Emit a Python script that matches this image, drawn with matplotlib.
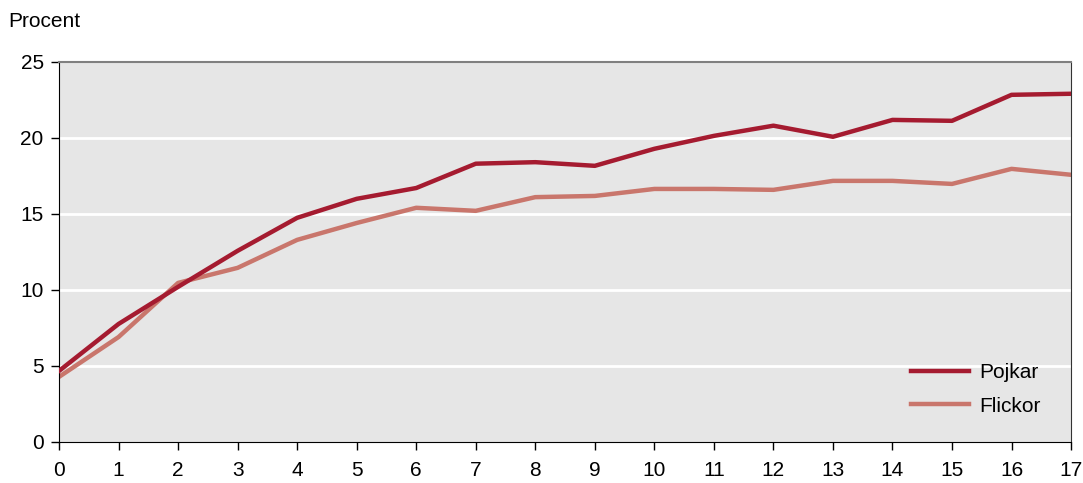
import numpy as np
import matplotlib
matplotlib.use('Agg')
import matplotlib.pyplot as plt

plt.rcParams['font.family'] = ['Liberation Sans', 'DejaVu Sans']

#data
ages = list(range(18))
pojkar = [4.67, 7.76, 10.2, 12.57, 14.74, 15.99, 16.7, 18.3, 18.4, 18.16,
          19.28, 20.13, 20.8, 20.07, 21.18, 21.12, 22.83, 22.9]
flickor = [4.28, 6.9, 10.46, 11.45, 13.29, 14.4, 15.4, 15.2, 16.1, 16.18,
           16.64, 16.64, 16.58, 17.17, 17.17, 16.97, 17.96, 17.57]
yticks = [0, 5, 10, 15, 20, 25]

fig = plt.figure(figsize=(10.83, 4.83), dpi=100)
ax = fig.add_axes([0.0545, 0.085, 0.9345, 0.787])
ax.set_facecolor('#e6e6e6')

#white grid lines
for y in yticks[1:-1]:
    ax.axhline(y, color='white', lw=2, zorder=1)

ax.plot(ages, pojkar, color='#a51b30', lw=3.2, label='Pojkar', zorder=3)
ax.plot(ages, flickor, color='#c9766c', lw=3.2, label='Flickor', zorder=2)

ax.set_xlim(0, 17)
ax.set_ylim(0, 25)
ax.set_xticks(ages)
ax.set_yticks(yticks)
ax.tick_params(labelsize=15, direction='out', length=6, width=1, colors='black')
ax.tick_params(axis='x', pad=8)
ax.tick_params(axis='y', pad=5)

ax.spines['left'].set_color('black')
ax.spines['bottom'].set_color('black')
ax.spines['top'].set_color('#808080')
ax.spines['top'].set_linewidth(1.5)
ax.spines['right'].set_color('#333333')

fig.text(0.008, 0.955, 'Procent', fontsize=15, va='center', ha='left')

ax.legend(loc='lower right', bbox_to_anchor=(0.988, 0.02), frameon=False,
          fontsize=15, handlelength=2.8, handletextpad=0.45, labelspacing=0.7)

plt.savefig('out.png', dpi=100)
